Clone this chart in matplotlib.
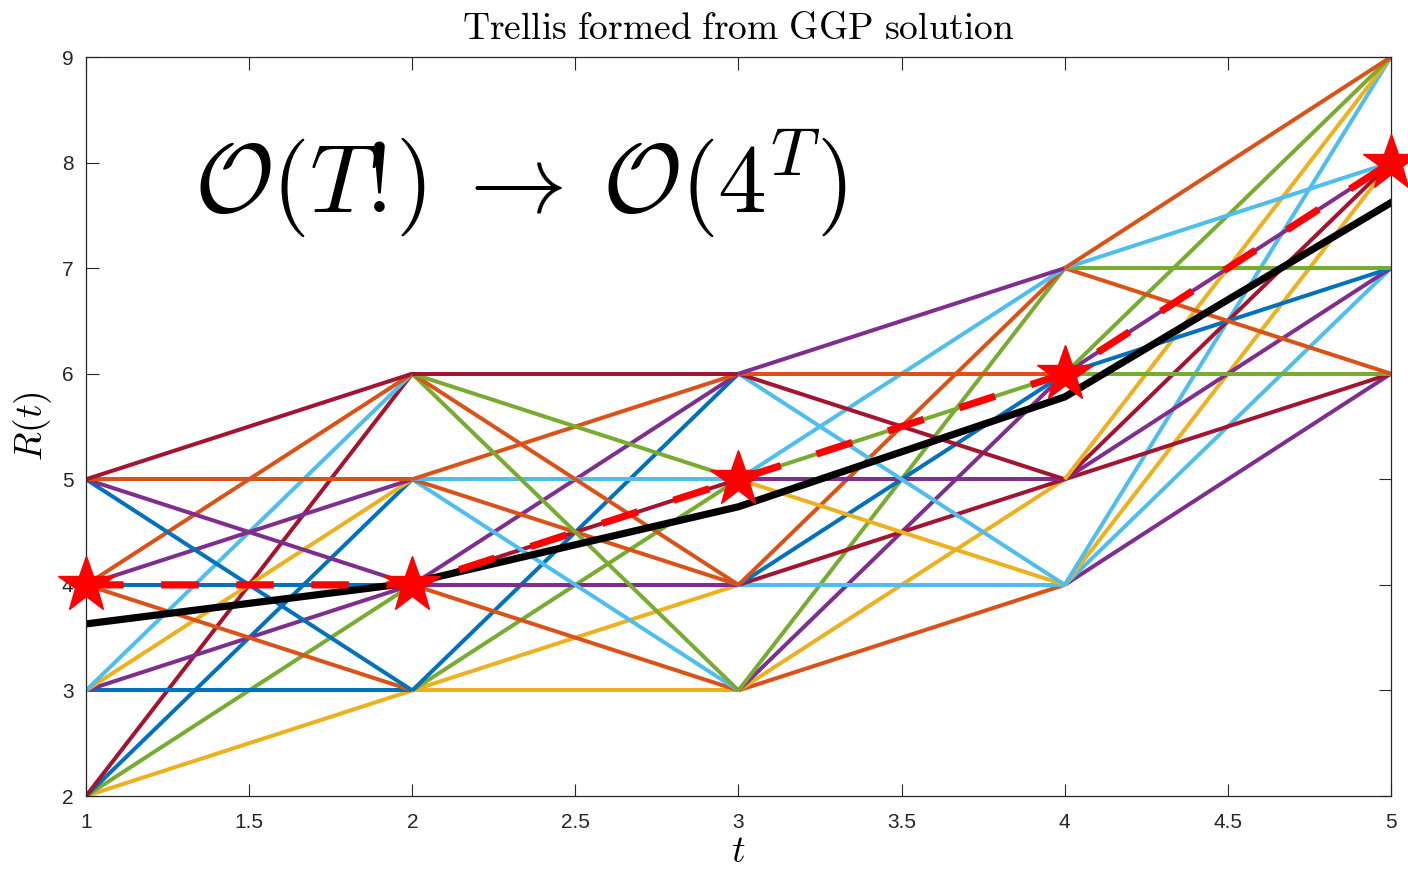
import matplotlib
matplotlib.use('Agg')
import matplotlib.pyplot as plt
import numpy as np

plt.rcParams['mathtext.fontset'] = 'cm'
plt.rcParams['font.family'] = ['Liberation Sans', 'DejaVu Sans']

# time steps and the reward states reachable at each one
t = [1, 2, 3, 4, 5]
states = [[2, 3, 4, 5],
          [3, 4, 5, 6],
          [3, 4, 5, 6],
          [4, 5, 6, 7],
          [6, 7, 8, 9]]

# matlab default colour order
palette = ['#0072BD', '#D95319', '#EDB120', '#7E2F8E',
           '#77AC30', '#4DBEEE', '#A2142F']

# colour index of each trellis edge, rows = from state, cols = to state
edge_col = [
    [[2, 4, 0, 6], [0, 3, 2, 5], [1, 0, 3, 1], [0, 3, 1, 6]],
    [[2, 2, 4, 0], [1, 3, 6, 3], [5, 1, 5, 1], [4, 1, 4, 6]],
    [[1, 2, 3, 4], [5, 6, 0, 1], [2, 3, 4, 5], [5, 6, 1, 3]],
    [[3, 5, 2, 5], [6, 3, 6, 2], [4, 0, 3, 4], [1, 4, 5, 1]],
]

# expected reward curve and the chosen path through the trellis
r_mean = [3.63, 4.02, 4.74, 5.78, 7.62]
r_best = [4, 4, 5, 6, 8]

fig = plt.figure(figsize=(14.08, 8.69), dpi=100)
ax = fig.add_axes([0.0611, 0.0840, 0.9268, 0.8504])

for k in range(len(t) - 1):
    for i, a in enumerate(states[k]):
        for j, b in enumerate(states[k + 1]):
            ax.plot([t[k], t[k + 1]], [a, b], color=palette[edge_col[k][i][j]],
                    lw=2.9, solid_capstyle='butt')

ax.plot(t, r_mean, color='k', lw=5.2)
ax.plot(t, r_best, color='r', lw=5.2, linestyle=(0, (5.2, 5.2)))
ax.plot(t, r_best, linestyle='None', marker='*', ms=42, color='r',
        markeredgecolor='r', clip_on=False, zorder=5)

ax.text(1.33, 7.52, r'$\mathcal{O}(T!\!)\:\rightarrow\:\mathcal{O}(4^T)$',
        fontsize=70, ha='left', va='baseline')

ax.set_xlim(1, 5)
ax.set_ylim(2, 9)
ax.set_xticks(np.arange(1, 5.01, 0.5))
ax.set_xticklabels(['1', '1.5', '2', '2.5', '3', '3.5', '4', '4.5', '5'])
ax.set_yticks(range(2, 10))
ax.tick_params(direction='in', length=9, width=0.8, colors='#262626',
               labelsize=15, top=True, right=True, pad=12)
ax.tick_params(axis='y', pad=9)
for s in ax.spines.values():
    s.set_color('#262626')
    s.set_linewidth(0.9)

ax.set_title(r'$\mathrm{Trellis\ formed\ from\ GGP\ solution}$',
             fontsize=27, pad=13)
ax.set_xlabel(r'$t$', fontsize=27, labelpad=2)
ax.set_ylabel(r'$R(t)$', fontsize=27, labelpad=6)

plt.savefig('out.png', dpi=100)
